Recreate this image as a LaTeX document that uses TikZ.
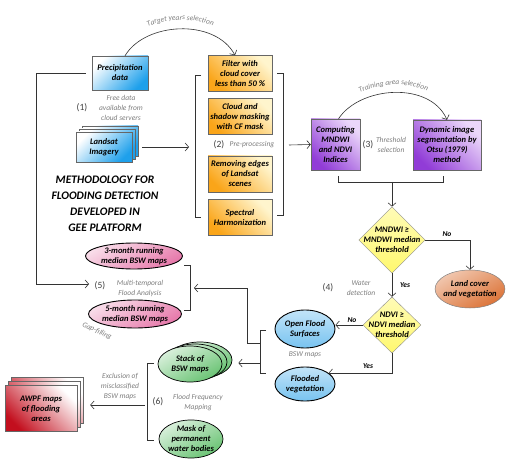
\documentclass[tikz,border=0pt]{standalone}
\usepackage{fontspec}
\setmainfont{Carlito}
\usetikzlibrary{calc,positioning,arrows.meta,shapes.geometric,decorations.text}
\definecolor{SrcBlue}{RGB}{30,160,235}
\definecolor{PpOrange}{RGB}{250,165,25}
\definecolor{PpLight}{RGB}{255,245,205}
\definecolor{IdxPurple}{RGB}{145,60,215}
\definecolor{IdxLight}{RGB}{235,215,250}
\definecolor{DecYellow}{RGB}{255,248,110}
\definecolor{LandOrange}{RGB}{220,115,55}
\definecolor{BswBlue}{RGB}{120,195,240}
\definecolor{RunPink}{RGB}{230,120,170}
\definecolor{FreqGreen}{RGB}{105,195,115}
\definecolor{AwRed}{RGB}{195,15,30}
\definecolor{NoteGray}{RGB}{125,125,125}
\tikzset{
  lbl/.style={font=\fontsize{8.5}{10}\selectfont\bfseries\itshape,align=center},
  box/.style={lbl,draw=black!60,line width=0.4pt,inner sep=1pt},
  srcbox/.style={box,top color=white,bottom color=SrcBlue,shading angle=45,minimum width=56,minimum height=30},
  ppbox/.style={box,top color=PpLight,bottom color=PpOrange,shading angle=-45,minimum width=64,minimum height=36},
  idxbox/.style={box,top color=IdxLight,bottom color=IdxPurple,shading angle=-45,minimum height=50},
  awbox/.style={box,top color=white,bottom color=AwRed,shading angle=-45,minimum width=72,minimum height=46},
  decis/.style={lbl,diamond,aspect=1,draw=black!45,top color=DecYellow!50!white,bottom color=DecYellow,inner sep=-4pt},
  oval/.style={lbl,ellipse,inner sep=-2pt,line width=0.9pt,draw=black},
  landoval/.style={oval,draw=black!50,line width=0.5pt,top color=LandOrange!40!white,bottom color=LandOrange,shading angle=30},
  bswoval/.style={oval,top color=BswBlue!45!white,bottom color=BswBlue},
  runoval/.style={oval,top color=RunPink!25!white,bottom color=RunPink,shading angle=30},
  frqoval/.style={oval,line width=0.7pt,top color=FreqGreen!25!white,bottom color=FreqGreen,shading angle=30},
  ttl/.style={font=\fontsize{11.5}{16}\selectfont\bfseries\itshape,align=center},
  note/.style={font=\fontsize{7.5}{10}\selectfont\itshape,text=NoteGray,align=center},
  num/.style={font=\fontsize{9.5}{10}\selectfont,text=black!75},
  yn/.style={font=\fontsize{7.5}{9}\selectfont\bfseries\itshape},
  conn/.style={draw=black!80,line width=0.6pt},
  arr/.style={conn,-{Straight Barb[length=3.5pt,width=8pt]}},
  arctext/.style={decorate,decoration={text along path,text align=center,text color=NoteGray,text={|\fontsize{7.5}{8}\selectfont\itshape|#1}}}
}
\begin{document}
\begin{tikzpicture}[x=1pt,y=-1pt]
\useasboundingbox (0,0) rectangle (512,468);
% (1) data sources
\node[srcbox,minimum height=34] (precip) at (120,73) {Precipitation\\data};
\node[num] (n1) at (82,108) {(1)};
\node[note] (free) at (121,108) {Free data\\available from\\cloud servers};
\node[srcbox] (ls2) at (110,141) {};
\node[srcbox] (ls1) at (107,144) {};
\node[srcbox] (ls) at (104,147) {Landsat\\Imagery};
\node[ttl] (title) at (105,204) {METHODOLOGY FOR\\FLOODING DETECTION\\DEVELOPED IN\\GEE PLATFORM};

% (2) pre-processing
\node[ppbox] (f1) at (240,73.5) {Filter with\\cloud cover\\less than 50 \%};
\node[ppbox] (f2) at (240,116.5) {Cloud and\\shadow masking\\with CF mask};
\node[ppbox] (f3) at (240,174) {Removing edges\\of Landsat\\scenes};
\node[ppbox] (f4) at (240,217.5) {Spectral\\Harmonization};
\node[num] (n2) at (219,145) {(2)};
\node[note] (pre) at (252,145) {Pre-processing};
\draw[conn] (201,75) -- (195,75) -- (195,217) -- (201,217);
\draw[conn] (277,73) -- (283,73) -- (283,215) -- (277,215);
\coordinate (ppin) at (189,147);
\coordinate (ppout) at (289,145);
\draw[arr] ([xshift=10]ls.east) -- (ppin);
\draw[arr] ([xshift=5]precip.north) .. controls (145,22) and (215,18) .. ([xshift=-5]f1.north);
\path[arctext={Target years selection}] (125,44) .. controls (145,14) and (215,10) .. (235,44);

% (3) threshold selection
\node[idxbox,minimum width=49,minimum height=51] (comp) at (335.5,144.5) {Computing\\MNDWI\\and NDVI\\Indices};
\node[idxbox,minimum width=68] (dyn) at (447,145) {Dynamic image\\segmentation by\\Otsu (1979)\\method};
\node[num] (n3) at (368,145) {(3)};
\node[note] (thr) at (391,145) {Threshold\\selection};
\draw[arr] (ppout) -- (comp.west);
\draw[arr] ([xshift=3]comp.north) .. controls (360,86) and (430,81) .. (dyn.north);
\path[arctext={Training area selection}] (338,110) .. controls (360,79) and (430,74) .. (447,110);
\draw[conn] (338,176) -- (338,182) -- (443,182) -- (443,176);
\coordinate (idxout) at (392,182);

% (4) water detection
\node[decis,minimum width=66,minimum height=66] (d1) at (392,240) {MNDWI ≥\\MNDWI median\\threshold};
\node[landoval,minimum width=63,minimum height=38] (land) at (470,289) {Land cover\\and vegetation};
\node[decis,minimum width=58,minimum height=56] (d2) at (392,325) {NDVI ≥\\NDVI median\\threshold};
\node[bswoval,minimum width=60,minimum height=38] (open) at (305,329) {Open Flood\\Surfaces};
\node[bswoval,minimum width=60,minimum height=34] (flveg) at (305,384) {Flooded\\vegetation};
\node[note] (bsw) at (305,355) {BSW maps};
\node[num] (n4) at (328,288) {(4)};
\node[note] (wat) at (361,288) {Water\\detection};
\draw[arr] (idxout) -- (d1.north);
\draw[arr] (d1.east) -| (land.north);
\node[yn] (no1) at (447,234) {No};
\draw[arr] (d1.south) -- (d2.north);
\node[yn] (yes1) at (405,285) {Yes};
\draw[arr] (d2.west) -- (d2.west -| open.east);
\node[yn] (no2) at (352,320) {No};
\draw[arr] (d2.south) |- (flveg.25);
\node[yn] (yes2) at (368,366) {Yes};
\draw[conn] (266,330) -- (260,330) -- (260,373) -- (266,373);
\coordinate (bswup) at (260,343);
\coordinate (bswdn) at (260,363);

% (5) multi-temporal analysis
\node[runoval,minimum width=97,minimum height=26] (m3) at (134,256) {3-month running\\median BSW maps};
\node[runoval,minimum width=93,minimum height=28] (m5) at (135,314) {5-month running\\median BSW maps};
\node[num] (n5) at (100,286) {(5)};
\node[note] (mt) at (140,289) {Multi-temporal\\Flood Analysis};
\node[note,rotate=-25] (gap) at (97,331) {Gap-filling};
\draw[conn] (184,265) -- (190,265) -- (190,310) -- (184,310);
\coordinate (mtin) at (194,288);
\coordinate (loopend) at (89,284);
\draw[arr] ([xshift=-6]precip.west) -- ++(-50,0) |- (loopend);
\draw[arr] (bswup) -- ++(-13,0) |- (mtin);

% (6) flood frequency mapping
\node[frqoval,minimum width=64,minimum height=36] (st2) at (200,360) {};
\node[frqoval,minimum width=64,minimum height=36] (st1) at (195,362) {};
\node[frqoval,minimum width=64,minimum height=36] (st) at (190,364) {Stack of\\BSW maps};
\node[frqoval,minimum width=64,minimum height=38] (mask) at (191,439) {Mask of\\permanent\\water bodies};
\node[num] (n6) at (158,402) {(6)};
\node[note] (frq) at (198,403) {Flood Frequency\\Mapping};
\draw[arr] (bswdn) -- ([xshift=6]st2.east |- bswdn);
\draw[conn] (154,363) -- (147,363) -- (147,440) -- (154,440);
\coordinate (frqout) at (145,405);
\node[awbox] (aw2) at (47,400.5) {};
\node[awbox] (aw1) at (44,404.5) {};
\node[awbox] (aw) at (41,408.5) {AWPF maps\\of flooding\\areas};
\node[note] (excl) at (120,386) {Exclusion of\\misclassified\\BSW maps};
\draw[arr] (frqout) -- ([xshift=7]aw2.east |- frqout);
\end{tikzpicture}
\end{document}
